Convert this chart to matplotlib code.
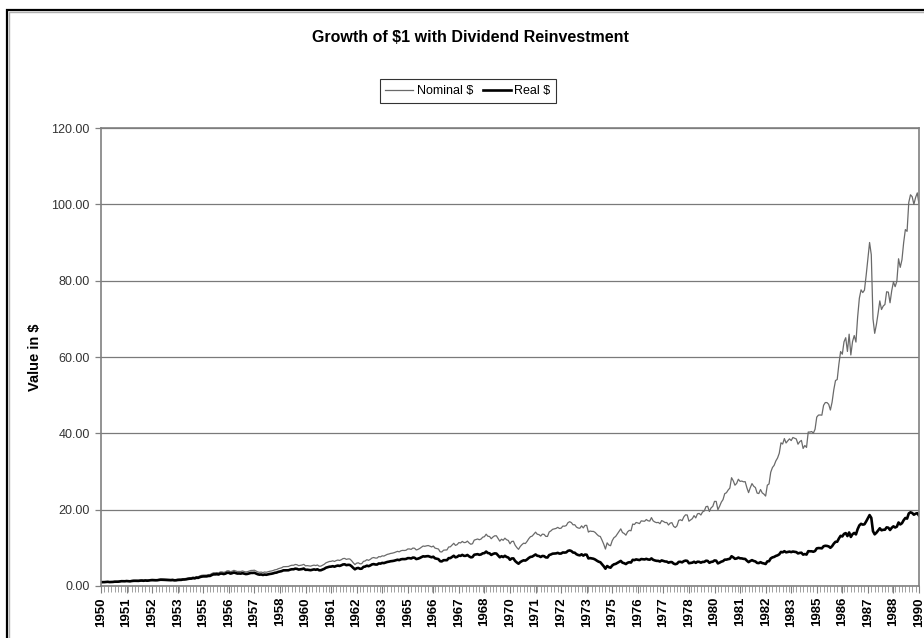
import numpy as np
import matplotlib
matplotlib.use("Agg")
import matplotlib.pyplot as plt
from matplotlib.patches import Rectangle
from matplotlib.ticker import FormatStrFormatter

plt.rcParams['font.family'] = ['Liberation Sans', 'DejaVu Sans']

# month-end values from Jan 1950 to Jan 1990, one row per year
nominal = [
    1.00, 1.02, 1.03, 1.08, 1.13, 1.07, 1.08, 1.12, 1.19, 1.20, 1.21, 1.27,
    1.36, 1.37, 1.35, 1.42, 1.37, 1.34, 1.44, 1.50, 1.51, 1.50, 1.50, 1.57,
    1.60, 1.55, 1.63, 1.57, 1.61, 1.69, 1.73, 1.71, 1.68, 1.69, 1.78, 1.85,
    1.85, 1.82, 1.79, 1.75, 1.75, 1.73, 1.78, 1.69, 1.70, 1.79, 1.82, 1.83,
    1.93, 1.94, 2.00, 2.11, 2.19, 2.20, 2.34, 2.27, 2.47, 2.43, 2.64, 2.79,
    2.85, 2.87, 2.87, 2.99, 3.00, 3.26, 3.47, 3.46, 3.51, 3.42, 3.69, 3.70,
    3.57, 3.70, 3.97, 3.98, 3.73, 3.89, 4.10, 3.96, 3.79, 3.82, 3.79, 3.94,
    3.79, 3.68, 3.76, 3.91, 4.07, 4.08, 4.14, 3.92, 3.69, 3.58, 3.65, 3.51,
    3.67, 3.60, 3.73, 3.86, 3.93, 4.05, 4.24, 4.30, 4.53, 4.66, 4.78, 5.05,
    5.08, 5.09, 5.11, 5.32, 5.44, 5.43, 5.64, 5.57, 5.33, 5.41, 5.50, 5.67,
    5.28, 5.34, 5.28, 5.20, 5.36, 5.47, 5.35, 5.51, 5.19, 5.20, 5.43, 5.69,
    6.07, 6.25, 6.42, 6.46, 6.60, 6.43, 6.66, 6.80, 6.69, 6.89, 7.18, 7.23,
    6.97, 7.10, 7.08, 6.66, 6.10, 5.61, 5.98, 6.08, 5.80, 5.85, 6.45, 6.56,
    6.90, 6.72, 6.97, 7.33, 7.46, 7.32, 7.32, 7.70, 7.64, 7.90, 7.84, 8.05,
    8.29, 8.39, 8.54, 8.61, 8.73, 8.89, 9.08, 8.95, 9.23, 9.33, 9.30, 9.37,
    9.70, 9.71, 9.59, 9.94, 9.89, 9.44, 9.59, 9.83, 10.16, 10.47, 10.40, 10.52,
    10.60, 10.44, 10.23, 10.47, 9.93, 9.80, 9.69, 8.96, 8.92, 9.38, 9.43, 9.45,
    10.22, 10.27, 10.71, 11.19, 10.64, 10.85, 11.38, 11.28, 11.68, 11.37, 11.42, 11.76,
    11.27, 10.94, 11.08, 12.02, 12.18, 12.32, 12.12, 12.30, 12.79, 12.92, 13.57, 13.04,
    12.97, 12.39, 12.84, 13.15, 13.16, 12.47, 11.75, 12.26, 11.98, 12.53, 12.12, 11.93,
    11.06, 11.67, 11.73, 10.70, 10.08, 9.60, 10.34, 10.83, 11.22, 11.12, 11.68, 12.38,
    12.91, 13.07, 13.59, 14.11, 13.56, 13.47, 13.08, 13.59, 13.53, 13.00, 12.99, 14.15,
    14.44, 14.85, 14.97, 15.08, 15.37, 15.07, 15.15, 15.70, 15.67, 15.83, 16.58, 16.85,
    16.61, 16.03, 16.06, 15.44, 15.19, 15.13, 15.75, 15.22, 15.88, 15.89, 14.13, 14.40,
    14.31, 14.30, 14.02, 13.53, 13.12, 12.97, 12.00, 10.96, 9.68, 11.31, 10.73, 10.56,
    11.90, 12.66, 12.98, 13.63, 14.28, 14.97, 14.01, 13.76, 13.32, 14.19, 14.58, 14.47,
    16.23, 16.11, 16.64, 16.52, 16.35, 17.07, 17.00, 16.97, 17.42, 17.09, 17.01, 17.92,
    17.07, 16.77, 16.60, 16.66, 16.32, 17.14, 16.92, 16.62, 16.64, 15.98, 16.48, 16.60,
    15.64, 15.32, 15.77, 17.19, 17.35, 17.12, 18.11, 18.65, 18.60, 16.98, 17.33, 17.65,
    18.44, 17.84, 18.90, 19.02, 18.60, 19.40, 19.66, 20.79, 20.88, 19.53, 20.48, 20.87,
    22.17, 22.16, 19.99, 20.90, 21.97, 22.64, 24.19, 24.44, 25.14, 25.66, 28.37, 27.57,
    26.41, 26.88, 27.97, 27.41, 27.50, 27.30, 27.34, 25.74, 24.47, 25.77, 26.83, 26.14,
    25.79, 24.35, 24.22, 25.28, 24.40, 24.07, 23.56, 26.41, 26.74, 29.81, 31.04, 31.62,
    32.78, 33.54, 34.79, 37.51, 37.20, 38.63, 37.47, 38.04, 38.55, 38.11, 38.91, 38.73,
    38.52, 37.15, 37.80, 38.15, 36.04, 36.81, 36.30, 40.34, 40.33, 40.48, 40.05, 41.06,
    44.25, 44.78, 44.81, 44.76, 47.34, 48.06, 48.06, 47.61, 46.11, 48.17, 51.42, 53.83,
    54.10, 58.16, 61.43, 60.74, 63.98, 65.05, 61.45, 65.98, 60.53, 64.04, 65.62, 63.91,
    70.50, 75.41, 77.59, 76.88, 77.53, 81.43, 85.59, 90.00, 86.79, 70.00, 66.20, 68.50,
    71.46, 74.70, 72.44, 73.35, 73.76, 77.09, 76.99, 74.21, 77.39, 79.67, 78.43, 79.83,
    85.74, 83.49, 85.49, 89.99, 93.39, 92.92, 100.50, 102.50, 102.00, 100.00, 101.80, 103.00,
    100.00,
]

real = [
    1.00, 1.01, 1.02, 1.06, 1.10, 1.03, 1.04, 1.07, 1.13, 1.13, 1.13, 1.18,
    1.26, 1.26, 1.24, 1.30, 1.25, 1.22, 1.30, 1.35, 1.36, 1.34, 1.34, 1.40,
    1.42, 1.37, 1.44, 1.39, 1.42, 1.50, 1.53, 1.51, 1.49, 1.50, 1.58, 1.64,
    1.63, 1.61, 1.58, 1.54, 1.54, 1.52, 1.56, 1.48, 1.49, 1.57, 1.60, 1.60,
    1.69, 1.70, 1.75, 1.85, 1.92, 1.93, 2.05, 1.99, 2.17, 2.13, 2.32, 2.45,
    2.51, 2.52, 2.52, 2.63, 2.64, 2.87, 3.05, 3.04, 3.09, 3.01, 3.25, 3.25,
    3.13, 3.24, 3.46, 3.47, 3.24, 3.37, 3.54, 3.41, 3.26, 3.28, 3.24, 3.36,
    3.23, 3.12, 3.18, 3.30, 3.43, 3.42, 3.46, 3.27, 3.07, 2.97, 3.02, 2.89,
    3.00, 2.94, 3.05, 3.15, 3.21, 3.31, 3.46, 3.51, 3.70, 3.80, 3.90, 4.10,
    4.10, 4.10, 4.12, 4.29, 4.39, 4.38, 4.55, 4.49, 4.30, 4.36, 4.44, 4.57,
    4.23, 4.27, 4.21, 4.14, 4.26, 4.35, 4.25, 4.38, 4.12, 4.13, 4.31, 4.50,
    4.79, 4.92, 5.05, 5.08, 5.19, 5.06, 5.24, 5.35, 5.26, 5.42, 5.64, 5.68,
    5.46, 5.55, 5.52, 5.19, 4.75, 4.37, 4.65, 4.73, 4.51, 4.55, 5.01, 5.09,
    5.33, 5.19, 5.38, 5.65, 5.74, 5.63, 5.62, 5.91, 5.86, 6.05, 6.00, 6.15,
    6.30, 6.38, 6.49, 6.54, 6.62, 6.74, 6.88, 6.78, 6.99, 7.06, 7.04, 7.09,
    7.30, 7.30, 7.20, 7.45, 7.40, 7.06, 7.16, 7.33, 7.56, 7.78, 7.72, 7.79,
    7.83, 7.69, 7.52, 7.67, 7.25, 7.14, 7.04, 6.49, 6.45, 6.76, 6.77, 6.77,
    7.30, 7.31, 7.60, 7.92, 7.51, 7.64, 7.98, 7.89, 8.15, 7.90, 7.91, 8.13,
    7.77, 7.51, 7.58, 8.19, 8.27, 8.34, 8.17, 8.27, 8.56, 8.62, 9.02, 8.64,
    8.56, 8.14, 8.39, 8.55, 8.51, 8.02, 7.52, 7.81, 7.59, 7.91, 7.61, 7.45,
    6.87, 7.22, 7.23, 6.56, 6.16, 5.84, 6.26, 6.53, 6.73, 6.65, 6.95, 7.34,
    7.62, 7.69, 7.98, 8.26, 7.92, 7.85, 7.60, 7.87, 7.82, 7.49, 7.47, 8.11,
    8.26, 8.47, 8.51, 8.54, 8.68, 8.49, 8.51, 8.79, 8.75, 8.81, 9.20, 9.32,
    9.16, 8.77, 8.72, 8.32, 8.12, 8.03, 8.30, 7.96, 8.24, 8.19, 7.23, 7.31,
    7.22, 7.14, 6.93, 6.63, 6.37, 6.23, 5.71, 5.17, 4.53, 5.24, 4.93, 4.80,
    5.37, 5.68, 5.79, 6.05, 6.30, 6.57, 6.11, 5.97, 5.75, 6.09, 6.23, 6.15,
    6.86, 6.78, 6.97, 6.89, 6.79, 7.06, 7.00, 6.96, 7.12, 6.95, 6.89, 7.23,
    6.86, 6.70, 6.59, 6.58, 6.41, 6.70, 6.57, 6.42, 6.39, 6.11, 6.26, 6.27,
    5.88, 5.71, 5.84, 6.32, 6.33, 6.20, 6.51, 6.65, 6.59, 5.97, 6.05, 6.12,
    6.35, 6.07, 6.36, 6.33, 6.12, 6.31, 6.32, 6.62, 6.57, 6.08, 6.31, 6.37,
    6.70, 6.63, 5.92, 6.13, 6.38, 6.52, 6.90, 6.91, 7.04, 7.12, 7.80, 7.51,
    7.13, 7.21, 7.45, 7.25, 7.23, 7.12, 7.09, 6.63, 6.26, 6.55, 6.77, 6.56,
    6.43, 6.05, 6.00, 6.24, 6.01, 5.91, 5.76, 6.44, 6.50, 7.23, 7.50, 7.62,
    7.88, 8.03, 8.30, 8.92, 8.82, 9.12, 8.82, 8.92, 9.01, 8.88, 9.03, 8.96,
    8.88, 8.54, 8.67, 8.72, 8.22, 8.37, 8.23, 9.12, 9.09, 9.09, 8.97, 9.17,
    9.86, 9.94, 9.92, 9.87, 10.41, 10.54, 10.50, 10.37, 10.01, 10.43, 11.09, 11.58,
    11.60, 12.45, 13.14, 12.98, 13.65, 13.86, 13.08, 14.03, 12.85, 13.58, 13.90, 13.52,
    14.90, 15.88, 16.29, 16.08, 16.17, 16.92, 17.73, 18.58, 17.86, 14.36, 13.54, 13.96,
    14.52, 15.12, 14.60, 14.73, 14.75, 15.36, 15.28, 14.67, 15.25, 15.63, 15.33, 15.55,
    16.64, 16.13, 16.45, 17.24, 17.82, 17.65, 19.01, 19.31, 19.13, 18.68, 18.94, 19.08,
    18.45,
]

# a year label every 15 months
tick_labels = ['1950', '1951', '1952', '1953', '1955', '1956', '1957', '1958',
               '1960', '1961', '1962', '1963', '1965', '1966', '1967', '1968',
               '1970', '1971', '1972', '1973', '1975', '1976', '1977', '1978',
               '1980', '1981', '1982', '1983', '1985', '1986', '1987', '1988',
               '1990']
label_step = 15

W, H = 924, 638
fig = plt.figure(figsize=(W / 100, H / 100), dpi=100)

# chart border (runs off the right and bottom edge)
fig.patches.append(Rectangle((9 / W, -0.1), 1.2, 1.1 - 12 / H, transform=fig.transFigure,
                             fill=False, edgecolor='#b0b0b0', lw=1.0))
fig.patches.append(Rectangle((7 / W, -0.1), 1.2, 1.1 - 10 / H, transform=fig.transFigure,
                             fill=False, edgecolor='black', lw=1.6))

ax = fig.add_axes([101 / W, 52 / H, 818 / W, 458 / H])
x = np.arange(len(nominal))
ax.plot(x, nominal, color='#6a6a6a', lw=0.9, label='Nominal $')
ax.plot(x, real, color='black', lw=1.9, label='Real $')

ax.set_xlim(0, len(nominal) - 1)
ax.set_ylim(0, 120)
ax.set_yticks(np.arange(0, 121, 20))
ax.yaxis.set_major_formatter(FormatStrFormatter('%.2f'))
ax.grid(axis='y', color='#7a7a7a', lw=0.9)
ax.set_axisbelow(True)

ax.set_xticks(x[::label_step])
ax.set_xticklabels(tick_labels, rotation=90, fontweight='bold', fontsize=9.5)
ax.set_xticks(x[::2], minor=True)
ax.tick_params(axis='x', which='major', length=5, width=0.8, color='#808080', pad=3)
ax.tick_params(axis='x', which='minor', length=4, width=0.6, color='#909090')
ax.tick_params(axis='y', length=4, width=0.9, color='#808080', labelsize=9,
               labelcolor='#333333', pad=4)

for side in ['left', 'right', 'top', 'bottom']:
    ax.spines[side].set_color('#808080')
    ax.spines[side].set_linewidth(1.2)

ax.set_ylabel('Value in $', fontsize=10.5, fontweight='bold', labelpad=7)

fig.text(470 / W, 1 - 38 / H, 'Growth of $1 with Dividend Reinvestment',
         ha='center', va='center', fontsize=11.5, fontweight='bold')

leg = fig.legend(loc='center', bbox_to_anchor=(468 / W, 1 - 91 / H), ncol=2,
                 fontsize=9, frameon=True, fancybox=False, handlelength=2.2,
                 handletextpad=0.3, columnspacing=0.8, borderpad=0.45)
leg.get_frame().set_edgecolor('black')
leg.get_frame().set_linewidth(0.8)

fig.savefig('out.png', dpi=100)
